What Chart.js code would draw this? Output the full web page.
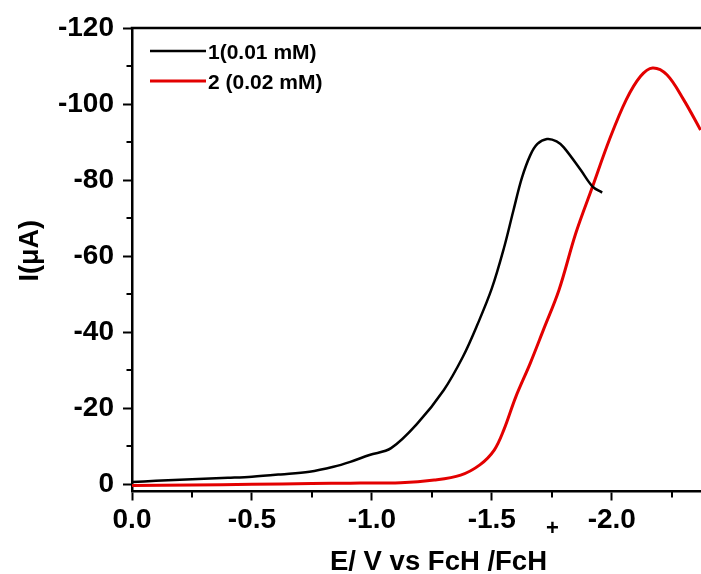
<!DOCTYPE html>
<html>
<head>
<meta charset="utf-8">
<style>
  html, body { margin: 0; padding: 0; background: #ffffff; overflow: hidden; }
  #c { display: block; }
</style>
<script src="https://cdn.jsdelivr.net/npm/chart.js@4/dist/chart.umd.min.js"></script>
</head>
<body>
<canvas id="c" width="701" height="574"></canvas>
<script>
// Linear sweep voltammograms: potential (V vs FcH/FcH+) and current (µA)
const seriesNames = ['1(0.01 mM)', '2 (0.02 mM)'];
const seriesColors = ['#000000', '#e30000'];

const potential1 = [0, -0.10, -0.25, -0.40, -0.50, -0.62, -0.74, -0.84, -0.91, -0.99, -1.08, -1.19, -1.30, -1.38, -1.44, -1.50, -1.55, -1.59, -1.625, -1.66, -1.69, -1.73, -1.77, -1.80, -1.87, -1.92, -1.96];
const current1   = [-0.6, -0.9, -1.3, -1.7, -2.0, -2.6, -3.3, -4.6, -5.9, -7.7, -9.5, -16.0, -24.8, -33.6, -42.0, -51.5, -62.0, -72.0, -80.5, -86.5, -89.5, -90.8, -90.2, -88.6, -82.7, -78.3, -76.7];

const potential2 = [0, -0.25, -0.50, -0.75, -0.91, -1.12, -1.26, -1.37, -1.45, -1.51, -1.55, -1.60, -1.66, -1.715, -1.78, -1.85, -1.92, -1.99, -2.06, -2.12, -2.17, -2.23, -2.30, -2.37];
const current2   = [0.3, 0.2, 0.0, -0.2, -0.3, -0.4, -1.1, -2.4, -5.1, -9.0, -14.3, -23.0, -31.8, -40.6, -51.1, -66.0, -78.3, -90.6, -101.1, -107.3, -109.5, -107.7, -101.1, -93.2];

const xTicks = [0, -0.5, -1.0, -1.5, -2.0];
const xMinorTicks = [-0.25, -0.75, -1.25, -1.75, -2.25];
const yTicks = [-120, -100, -80, -60, -40, -20, 0];
const yMinorTicks = [-110, -90, -70, -50, -30, -10];

const xTitleMain = 'E/ V vs FcH /FcH';
const xTitleSup = '+';
const yTitle = 'I(\u03BCA)';

const FONT = "'Liberation Sans', Arial, sans-serif";

function pairs(xs, ys) { return xs.map((x, i) => ({ x: x, y: ys[i] })); }

// Frame top edge, minor ticks, axis titles and the legend box
const decorations = {
  id: 'decorations',
  afterDraw(chart) {
    const ctx = chart.ctx;
    const a = chart.chartArea;
    const xs = chart.scales.x, ys = chart.scales.y;
    ctx.save();
    ctx.strokeStyle = '#000';
    // top frame line
    ctx.lineWidth = 2.5;
    ctx.beginPath();
    ctx.moveTo(a.left - 1.25, a.top);
    ctx.lineTo(a.right, a.top);
    ctx.stroke();
    // minor ticks
    ctx.lineWidth = 2;
    ctx.beginPath();
    xMinorTicks.forEach(v => {
      const px = Math.round(xs.getPixelForValue(v));
      ctx.moveTo(px, a.bottom);
      ctx.lineTo(px, a.bottom + 6);
    });
    yMinorTicks.forEach(v => {
      const py = Math.round(ys.getPixelForValue(v));
      ctx.moveTo(a.left, py);
      ctx.lineTo(a.left - 5.5, py);
    });
    ctx.stroke();

    // x axis title with superscript
    ctx.fillStyle = '#000';
    ctx.textAlign = 'left';
    ctx.textBaseline = 'alphabetic';
    ctx.font = 'bold 27.5px ' + FONT;
    const tx = a.left + 198;
    const ty = 569.5;
    ctx.fillText(xTitleMain, tx, ty);
    const w = ctx.measureText(xTitleMain).width;
    ctx.font = 'bold 22px ' + FONT;
    ctx.fillText(xTitleSup, tx + w - 1, ty - 35);

    // y axis title
    ctx.save();
    ctx.translate(38, (a.top + a.bottom) / 2 - 9);
    ctx.rotate(-Math.PI / 2);
    ctx.font = 'bold 27px ' + FONT;
    ctx.textAlign = 'center';
    ctx.textBaseline = 'alphabetic';
    ctx.fillText(yTitle, 0, 0);
    ctx.restore();

    // legend
    const lx = a.left + 18;
    const rows = [a.top + 23, a.top + 53];
    chart.data.datasets.forEach((ds, i) => {
      const ly = rows[i];
      ctx.strokeStyle = ds.borderColor;
      ctx.lineWidth = ds.borderWidth;
      ctx.beginPath();
      ctx.moveTo(lx, ly);
      ctx.lineTo(lx + 56, ly);
      ctx.stroke();
      ctx.fillStyle = '#000';
      ctx.font = 'bold 21px ' + FONT;
      ctx.textAlign = 'left';
      ctx.textBaseline = 'alphabetic';
      ctx.fillText(ds.label, lx + 58, ly + 8);
    });
    ctx.restore();
  }
};

new Chart(document.getElementById('c'), {
  type: 'line',
  data: {
    datasets: [
      {
        label: seriesNames[0],
        data: pairs(potential1, current1),
        borderColor: seriesColors[0],
        borderWidth: 2.5,
        pointRadius: 0,
        tension: 0.35,
        fill: false
      },
      {
        label: seriesNames[1],
        data: pairs(potential2, current2),
        borderColor: seriesColors[1],
        borderWidth: 3,
        pointRadius: 0,
        tension: 0.35,
        fill: false
      }
    ]
  },
  options: {
    responsive: false,
    animation: false,
    events: [],
    layout: { padding: { top: 28, right: 0, left: 0, bottom: 0 } },
    plugins: {
      legend: { display: false },
      tooltip: { enabled: false },
      title: { display: false }
    },
    scales: {
      x: {
        type: 'linear',
        reverse: true,
        min: -2.372,
        max: 0,
        afterBuildTicks: s => { s.ticks = xTicks.map(v => ({ value: v })); },
        afterFit: s => { s.height = 82.5; },
        grid: { drawOnChartArea: false, drawTicks: true, tickLength: 9, tickWidth: 2, tickColor: '#000' },
        border: { display: true, color: '#000', width: 2.5 },
        ticks: {
          color: '#000',
          padding: 3,
          maxRotation: 0,
          font: { family: FONT, size: 28, weight: 'bold' },
          callback: v => Number(v).toFixed(1)
        },
        title: { display: false }
      },
      y: {
        type: 'linear',
        reverse: true,
        min: -120,
        max: 1.9,
        afterBuildTicks: s => { s.ticks = yTicks.map(v => ({ value: v })); },
        afterFit: s => { s.width = 132; },
        grid: { drawOnChartArea: false, drawTicks: true, tickLength: 9, tickWidth: 2, tickColor: '#000' },
        border: { display: true, color: '#000', width: 2.5 },
        ticks: {
          color: '#000',
          padding: 9,
          font: { family: FONT, size: 28, weight: 'bold' },
          callback: v => String(v)
        },
        title: { display: false }
      }
    }
  },
  plugins: [decorations]
});
</script>
</body>
</html>
